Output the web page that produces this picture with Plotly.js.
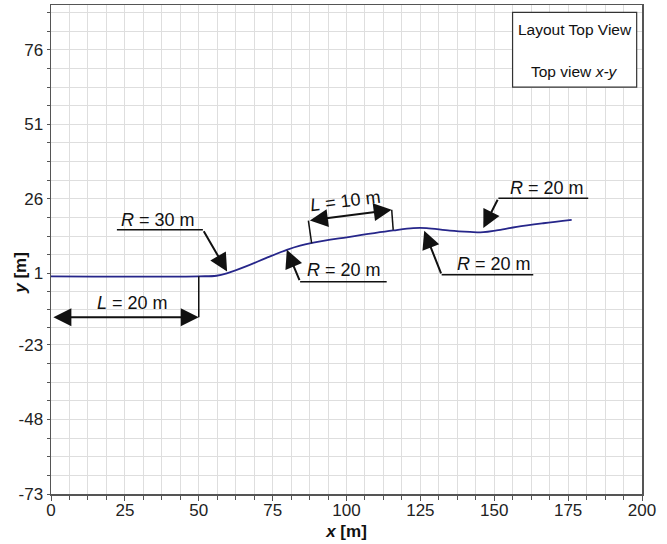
<!DOCTYPE html>
<html>
<head>
<meta charset="utf-8">
<script src="https://cdn.plot.ly/plotly-3.0.1.min.js"></script>
<style>html,body{margin:0;padding:0;background:#fff;}#chart{width:667px;height:544px;}</style>
</head>
<body>
<div id="chart"></div>
<script>
// Path of the layout (top view)
const pathX = [0, 50, 56, 59.5, 66.2, 72.9, 79.8, 84.3, 88.8, 100.1, 115.8, 122.6, 127.1, 135, 141.8, 146.3, 150.8, 157.6, 166.6, 176.2];
const pathY = [0, 0, 0.2, 1.0, 3.4, 6.2, 8.9, 10.3, 11.3, 13.1, 15.4, 16.2, 16.2, 15.3, 14.9, 14.8, 15.4, 16.6, 17.8, 18.9];

const xTickVals = [0, 25, 50, 75, 100, 125, 150, 175, 200];
const yTickVals = [-73, -48, -23, 1, 26, 51, 76];
const yTickText = ['-73', '-48', '-23', '1', '26', '51', '76'];

const legendLines = ['Layout Top View', 'Top view <i>x-y</i>'];

// minor ticks: 4 subdivisions of each major interval
const yMinor = [];
for (let i = 0; i < yTickVals.length - 1; i++) {
  const a = yTickVals[i], b = yTickVals[i + 1];
  for (let k = 1; k < 4; k++) yMinor.push(a + (b - a) * k / 4);
}
yMinor.push(76 + 6.25, 76 + 12.5);
yMinor.push(...yTickVals);

const font = 'Liberation Sans, Arial, sans-serif';
const gridC = '#dedede';
const ink = '#111';

const trace = {
  x: pathX, y: pathY, type: 'scatter', mode: 'lines',
  line: {color: '#26268a', width: 1.8, shape: 'spline', smoothing: 1},
  hoverinfo: 'skip', showlegend: false
};

function arrow(hx, hy, tx, ty, side) {
  return {x: hx, y: hy, ax: tx, ay: ty, xref: 'x', yref: 'y', axref: 'x', ayref: 'y',
    text: '', showarrow: true, arrowhead: 2, arrowsize: 1.8, arrowwidth: 2,
    arrowcolor: ink, arrowside: side || 'end', standoff: 0, startstandoff: 0};
}
function label(x, y, txt, ang) {
  return {x: x, y: y, xref: 'x', yref: 'y', text: txt, showarrow: false,
    xanchor: 'center', yanchor: 'middle',
    textangle: ang || 0, font: {family: font, size: 18, color: ink}};
}
function seg(x0, y0, x1, y1) {
  return {type: 'line', xref: 'x', yref: 'y', x0: x0, y0: y0, x1: x1, y1: y1,
    line: {color: ink, width: 1.5}};
}

const annotations = [
  // R = 30 m
  label(36.2, 18.9, '<i>R</i> = 30 m'),
  arrow(59.6, 1.6, 51.4, 15.6),
  // L = 20 m
  label(27.7, -8.9, '<i>L</i> = 20 m'),
  arrow(50, -13.7, 0.3, -13.7, 'end+start'),
  // L = 10 m
  label(99.6, 25.3, '<i>L</i> = 10 m', -7),
  arrow(115.3, 22.3, 87.1, 18.7, 'end+start'),
  // R = 20 m (lower left)
  label(99.2, 2.2, '<i>R</i> = 20 m'),
  arrow(79.8, 8.9, 84.3, -1.8),
  // R = 20 m (peak)
  label(149.9, 4.2, '<i>R</i> = 20 m'),
  arrow(126.3, 15.3, 132.2, 0.5),
  // R = 20 m (top right)
  label(168.0, 29.7, '<i>R</i> = 20 m'),
  arrow(146.3, 16.2, 151.4, 26.2),
  // legend box texts
  {x: 0.886, y: 0.950, xref: 'paper', yref: 'paper', xanchor: 'center', yanchor: 'middle',
    text: legendLines[0], showarrow: false, font: {family: font, size: 15.5, color: ink}},
  {x: 0.886, y: 0.864, xref: 'paper', yref: 'paper', xanchor: 'center', yanchor: 'middle',
    text: legendLines[1], showarrow: false, font: {family: font, size: 15.5, color: ink}},
  // y axis title
  {x: -0.052, y: 0.453, xref: 'paper', yref: 'paper', xanchor: 'center', yanchor: 'middle',
    text: '<b><i>y</i> [m]</b>', showarrow: false,
    textangle: -90, font: {family: font, size: 17, color: ink}}
];

const shapes = [
  seg(22.3, 15.6, 51.4, 15.6),
  seg(50, 0, 50, -13.7),
  seg(87.1, 18.7, 88.2, 11.1),
  seg(115.3, 22.3, 115.8, 15.6),
  seg(84.3, -1.8, 113.6, -1.8),
  seg(132.2, 0.5, 163.2, 0.5),
  seg(151.4, 26.2, 181.8, 26.2),
  {type: 'rect', xref: 'paper', yref: 'paper', x0: 0.781, x1: 0.991, y0: 0.832, y1: 0.985,
    line: {color: '#333', width: 1.2}, fillcolor: '#fff'}
];

const layout = {
  width: 667, height: 544,
  margin: {l: 51, r: 25, t: 5, b: 50},
  paper_bgcolor: '#fff', plot_bgcolor: '#fff',
  showlegend: false,
  font: {family: font, color: '#222'},
  xaxis: {
    range: [0, 200], tickmode: 'array', tickvals: xTickVals,
    showgrid: true, gridcolor: gridC, gridwidth: 1, zeroline: false,
    showline: true, linecolor: '#555', linewidth: 1.5, mirror: true,
    ticks: 'outside', ticklen: 5, tickcolor: '#555', ticklabelstandoff: -5,
    tickfont: {family: font, size: 17, color: '#222'},
    minor: {tick0: 0, dtick: 6.25, ticks: 'outside', ticklen: 4, tickcolor: '#555', showgrid: true, gridcolor: gridC, gridwidth: 1},
    title: {text: '<b><i>x</i> [m]</b>', font: {family: font, size: 17, color: ink}, standoff: 6},
    fixedrange: true
  },
  yaxis: {
    range: [-73, 91], tickmode: 'array', tickvals: yTickVals, ticktext: yTickText,
    showgrid: true, gridcolor: gridC, gridwidth: 1, zeroline: false,
    showline: true, linecolor: '#555', linewidth: 1.5, mirror: true,
    ticks: 'outside', ticklen: 3, tickcolor: '#555',
    tickfont: {family: font, size: 17, color: '#222'},
    minor: {tickmode: 'array', tickvals: yMinor, ticks: 'outside', ticklen: 3, tickcolor: '#555', showgrid: true, gridcolor: gridC, gridwidth: 1},
    fixedrange: true
  },
  annotations: annotations,
  shapes: shapes
};

Plotly.newPlot('chart', [trace], layout, {displayModeBar: false, staticPlot: true});
</script>
</body>
</html>
